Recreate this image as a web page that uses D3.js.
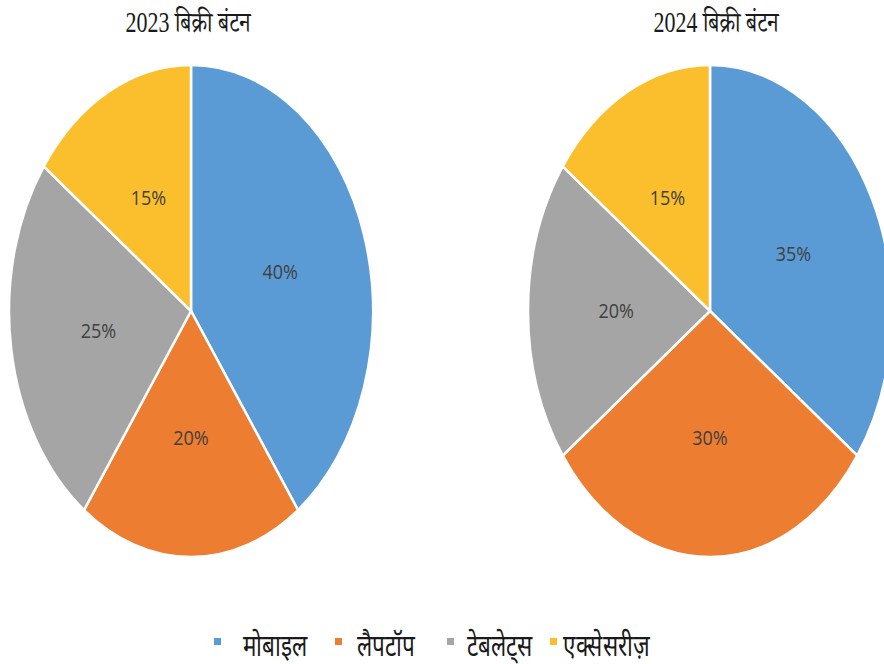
<!DOCTYPE html>
<html lang="hi">
<head>
<meta charset="UTF-8">
<title>बिक्री बंटन</title>
<script src="https://cdn.jsdelivr.net/npm/d3@7"></script>
<style>
body{margin:0;background:#fff}
</style>
</head>
<body>
<svg id="chart" width="884" height="664"></svg>
<script>
var categories=["मोबाइल","लैपटॉप","टेबलेट्स","एक्सेसरीज़"]
var colors=["#5b9bd5","#ed7d31","#a5a5a5","#fbbf2d"]
var values2023=[40,20,25,15]
var values2024=[35,30,20,15]
var titles=["2023 बिक्री बंटन","2024 बिक्री बंटन"]

var width=884,height=664
var svg=d3.select('#chart')
var ry=246,rx=182
var charts=[{title:titles[0],values:values2023,cx:191,cy:311,tx:188},
            {title:titles[1],values:values2024,cx:710,cy:311,tx:716}]

var pie=d3.pie().sort(null).value(d=>d)
var arc=d3.arc().innerRadius(0).outerRadius(ry)
var labelArc=d3.arc().innerRadius(0).outerRadius(ry*1.03)

charts.forEach(function(c){
    var g=svg.append('g').attr('transform',`translate(${c.cx},${c.cy})`)
    var slices=g.append('g').attr('transform',`scale(${rx/ry},1)`)
    var arcs=pie(c.values)
    slices.selectAll('path').data(arcs).enter().append('path')
        .attr('d',arc).attr('fill',(d,i)=>colors[i])
        .attr('stroke','#fff').attr('stroke-width',2.5)
        .attr('vector-effect','non-scaling-stroke')
    g.selectAll('text.lbl').data(arcs).enter().append('text').attr('class','lbl')
        .attr('transform',d=>`translate(${labelArc.centroid(d)[0]*rx/ry},${labelArc.centroid(d)[1]}) scale(1,1.15)`)
        .attr('dy','0.35em').attr('text-anchor','middle')
        .attr('font-family','"Open Sans", "Liberation Sans", sans-serif')
        .attr('font-size',18).attr('fill','#404040')
        .text(d=>d.data+'%')
    svg.append('text').attr('transform',`translate(${c.tx},32) scale(1,1.3)`).attr('text-anchor','middle')
        .attr('font-family','"Liberation Serif", "Noto Serif Devanagari", serif')
        .attr('font-size',22).attr('fill','#1a1a1a')
        .text(c.title)
})

// legend
var legendX=[214,335,447,550]
var legendTextX=[243,357,467,563]
var legend=svg.append('g')
categories.forEach(function(name,i){
    legend.append('rect').attr('x',legendX[i]).attr('y',638).attr('width',7).attr('height',7).attr('fill',colors[i])
    legend.append('text').attr('transform',`translate(${legendTextX[i]},656) scale(1,1.35)`)
        .attr('font-family','"Liberation Serif", serif').attr('font-size',22.5).attr('fill','#1a1a1a')
        .text(name)
})
</script>
</body>
</html>
